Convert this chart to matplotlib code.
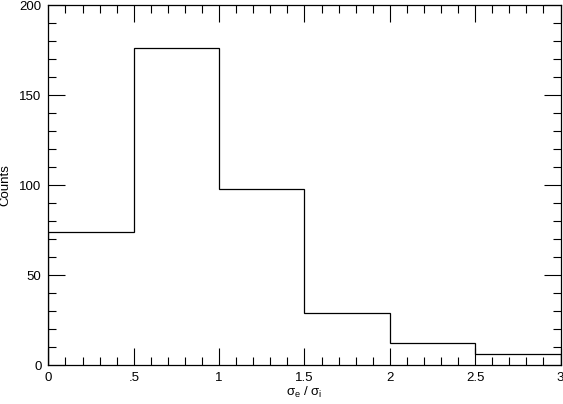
import numpy as np
import matplotlib
matplotlib.use('Agg')
import matplotlib.pyplot as plt
from matplotlib.ticker import MultipleLocator, FuncFormatter

# histogram of sigma_e / sigma_i
bin_edges = [0.0, 0.5, 1.0, 1.5, 2.0, 2.5, 3.0]
counts = [74, 176, 98, 29, 12, 6]

plt.rcParams['font.family'] = ['Liberation Sans', 'DejaVu Sans']
plt.rcParams['mathtext.fontset'] = 'custom'
plt.rcParams['mathtext.rm'] = 'Liberation Sans'
plt.rcParams['mathtext.it'] = 'Liberation Sans'

fig = plt.figure(figsize=(5.63, 4.04), dpi=100)
ax = fig.add_axes([0.086, 0.0965, 0.9096, 0.891])

ax.stairs(counts, bin_edges, color='black', linewidth=0.9)

ax.set_xlim(0, 3)
ax.set_ylim(0, 200)

def xfmt(v, pos):
    s = '%g' % v
    if s.startswith('0.'):
        s = s[1:]
    return s

ax.xaxis.set_major_locator(MultipleLocator(0.5))
ax.xaxis.set_minor_locator(MultipleLocator(0.1))
ax.xaxis.set_major_formatter(FuncFormatter(xfmt))
ax.yaxis.set_major_locator(MultipleLocator(50))
ax.yaxis.set_minor_locator(MultipleLocator(10))

ax.tick_params(which='both', direction='in', top=True, right=True,
               labelsize=9.5, width=0.8, colors='black')
ax.tick_params(which='major', length=12, pad=5)
ax.tick_params(which='minor', length=6)
for sp in ax.spines.values():
    sp.set_linewidth(0.9)

ax.set_xlabel(r'$\sigma_e$ / $\sigma_i$', fontsize=9.5, labelpad=1)
ax.set_ylabel('Counts', fontsize=9.5, labelpad=6)

plt.savefig('out.png', dpi=100)
